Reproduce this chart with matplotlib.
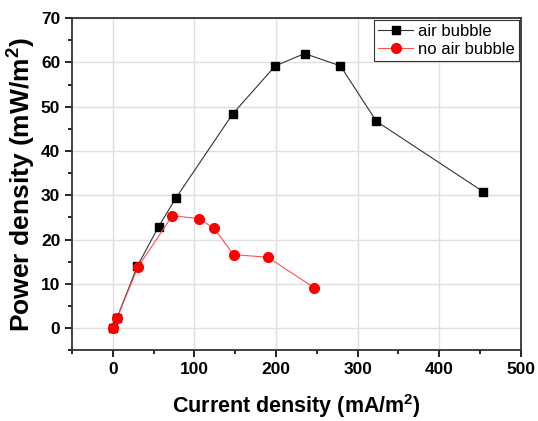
import matplotlib
matplotlib.use('Agg')
import matplotlib.pyplot as plt
from matplotlib.ticker import MultipleLocator

# air bubble
air_x = [0, 5, 30, 56, 77, 147, 199, 235, 279, 323, 454]
air_y = [0, 2.3, 14.0, 22.9, 29.3, 48.4, 59.2, 62.0, 59.2, 46.7, 30.8]

# no air bubble
no_air_x = [0, 5, 31, 73, 106, 124, 148, 190, 247]
no_air_y = [0, 2.2, 13.9, 25.4, 24.7, 22.5, 16.6, 16.0, 9.1]

plt.rcParams['font.family'] = ['Liberation Sans', 'DejaVu Sans']
plt.rcParams['mathtext.fontset'] = 'custom'
plt.rcParams['mathtext.bf'] = 'Liberation Sans:bold'
plt.rcParams['mathtext.rm'] = 'Liberation Sans'

fig, ax = plt.subplots(figsize=(5.38, 4.21), dpi=100)
fig.subplots_adjust(left=0.134, right=0.968, top=0.957, bottom=0.168)

ax.plot(air_x, air_y, color='#333333', lw=0.8, marker='s', ms=6,
        mfc='black', mec='black', label='air bubble', zorder=3)
ax.plot(no_air_x, no_air_y, color='#ff5050', lw=0.8, marker='o', ms=7,
        mfc='red', mec='red', label='no air bubble', zorder=4)

ax.set_xlim(-50, 500)
ax.set_ylim(-5, 70)
ax.xaxis.set_major_locator(MultipleLocator(100))
ax.xaxis.set_minor_locator(MultipleLocator(50))
ax.yaxis.set_major_locator(MultipleLocator(10))
ax.yaxis.set_minor_locator(MultipleLocator(5))
ax.tick_params(which='major', direction='out', length=5, width=1.2,
               labelsize=12.5)
ax.tick_params(which='minor', direction='out', length=3, width=1.2)
for lab in ax.get_xticklabels() + ax.get_yticklabels():
    lab.set_fontweight('bold')
for sp in ax.spines.values():
    sp.set_linewidth(1.3)
    sp.set_color('#333333')

ax.grid(True, which='major', color='#e0e0e0', lw=1)
ax.set_axisbelow(True)

ax.set_xlabel('Current density (mA/m$^\\mathbf{2}$)', fontsize=15.5,
              fontweight='bold', labelpad=11)
ax.set_ylabel('Power density (mW/m$^\\mathbf{2}$)', fontsize=19,
              fontweight='bold', labelpad=3)

leg = ax.legend(loc='upper right', fontsize=12, frameon=True, fancybox=False,
                borderaxespad=0.1, handlelength=2.1, borderpad=0.25,
                labelspacing=0.2, handletextpad=0.3)
leg.get_frame().set_edgecolor('black')
leg.get_frame().set_linewidth(0.8)

fig.savefig('out.png', dpi=100)
